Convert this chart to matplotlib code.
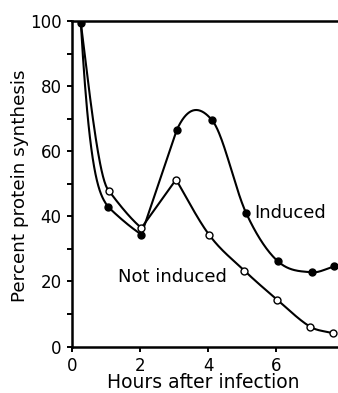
import numpy as np
import matplotlib.pyplot as plt

plt.rcParams['font.family'] = ['DejaVu Sans']

# Punkter lest av figuren (timer etter infeksjon, prosent proteinsyntese)
induced_x = [0.26, 1.06, 2.04, 3.08, 4.12, 5.12, 6.05, 7.05, 7.7]
induced_y = [99.4, 42.9, 34.4, 66.5, 69.5, 41, 26.2, 22.8, 24.6]

not_induced_x = [0.26, 1.08, 2.04, 3.06, 4.04, 5.07, 6.03, 7.0, 7.67]
not_induced_y = [99.4, 47.9, 36.4, 51.3, 34.2, 23.3, 14.4, 6.1, 4.1]

x_ticks = [0, 2, 4, 6, 8]
y_ticks = [0, 20, 40, 60, 80, 100]
y_minor = [10, 30, 50, 70, 90]


def hermite(xs, ys, m_start, m_end, n=40):
    # glatt kurve gjennom punktene (Catmull-Rom i midten)
    xs = np.asarray(xs, float)
    ys = np.asarray(ys, float)
    m = np.zeros(len(xs))
    m[0], m[-1] = m_start, m_end
    for i in range(1, len(xs) - 1):
        m[i] = (ys[i + 1] - ys[i - 1]) / (xs[i + 1] - xs[i - 1])
    px, py = [], []
    t = np.linspace(0, 1, n)
    for i in range(len(xs) - 1):
        h = xs[i + 1] - xs[i]
        h00 = 2 * t**3 - 3 * t**2 + 1
        h10 = t**3 - 2 * t**2 + t
        h01 = -2 * t**3 + 3 * t**2
        h11 = t**3 - t**2
        px.extend(xs[i] + h * t)
        py.extend(h00 * ys[i] + h10 * h * m[i] + h01 * ys[i + 1] + h11 * h * m[i + 1])
    return px, py


def curve(xs, ys, s):
    # stupt fall, knekk ved 1 t, rett linje 2->3 t, glatt resten
    px, py = [], []
    for a, b, m0, m1 in [(0, 2, s[0], s[1]), (1, 3, s[2], s[3])]:
        qx, qy = hermite(xs[a:b], ys[a:b], m0, m1)
        px += qx
        py += qy
    px += list(xs[2:4])
    py += list(ys[2:4])
    qx, qy = hermite(xs[3:], ys[3:], s[4], s[5])
    return px + qx, py + qy


fig = plt.figure(figsize=(3.38, 3.93), dpi=100)
ax = fig.add_axes([0.213, 0.1183, 0.805, 0.8283])

cx, cy = curve(induced_x, induced_y, [-180, -15, -10, -7, 23, 3])
ax.plot(cx, cy, color='black', lw=1.5)
ax.plot(induced_x, induced_y, 'o', color='black', ms=5, zorder=3)

cx, cy = curve(not_induced_x, not_induced_y, [-85, -10, -14, -9, -18, -3])
ax.plot(cx, cy, color='black', lw=1.5)
ax.plot(not_induced_x[1:], not_induced_y[1:], 'o', mfc='white', mec='black',
        mew=1.0, ms=5, zorder=3)

ax.text(5.35, 41, 'Induced', fontsize=13, va='center')
ax.text(1.34, 21.3, 'Not induced', fontsize=13, va='center')

ax.set_xlim(0, 8)
ax.set_ylim(0, 100)
ax.set_xticks(x_ticks)
ax.set_yticks(y_ticks)
ax.set_yticks(y_minor, minor=True)
ax.tick_params(axis='both', which='both', direction='out', length=3.5,
               width=1.4, labelsize=12)
ax.tick_params(axis='x', pad=4)
ax.tick_params(axis='y', pad=4)

ax.spines['right'].set_visible(False)
for s in ['left', 'top', 'bottom']:
    ax.spines[s].set_linewidth(1.8)

ax.set_xlabel('Hours after infection', fontsize=13.5, va='center')
ax.xaxis.set_label_coords(0.484, -0.111)
ax.set_ylabel('Percent protein synthesis', fontsize=13.2, va='center')
ax.yaxis.set_label_coords(-0.19, 0.493)

fig.savefig('out.png', dpi=100)
